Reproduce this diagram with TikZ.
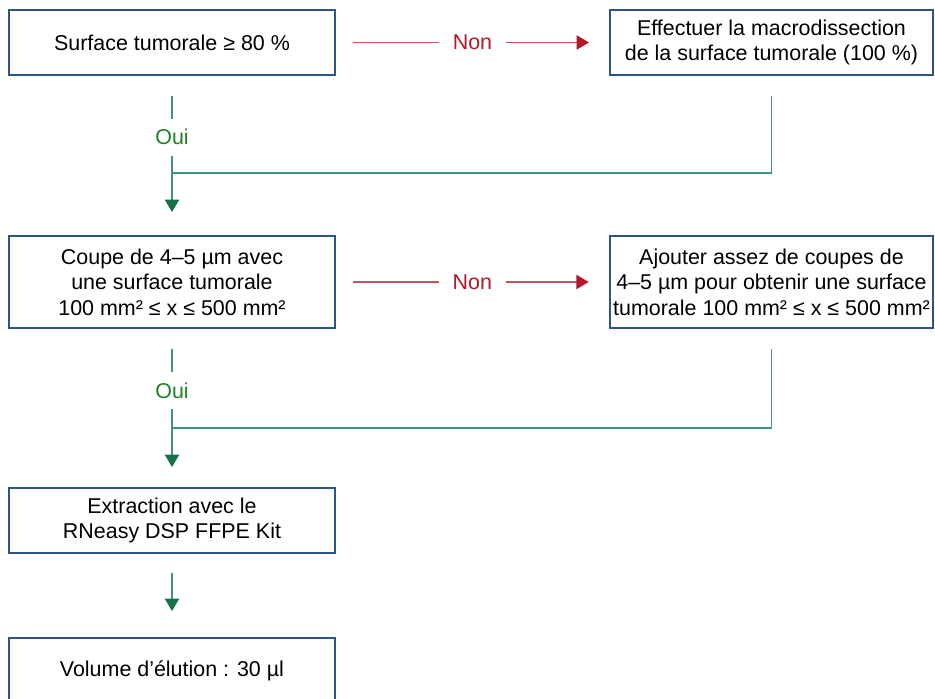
\documentclass[tikz,border=0pt]{standalone}
\usepackage{fontspec}
\setmainfont{Liberation Sans}
\usepackage{tikz}
\usetikzlibrary{arrows.meta, positioning, calc}

\definecolor{boxblue}{RGB}{45,85,135}
\definecolor{ouigreen}{RGB}{30,130,40}
\definecolor{linegreen}{RGB}{60,150,115}
\definecolor{tipgreen}{RGB}{20,115,75}
\definecolor{nonred}{RGB}{178,24,42}

\tikzset{
    stepbox/.style={draw=boxblue, line width=1.1pt, rectangle, fill=white, align=center,
        minimum width=6.52cm, minimum height=1.3cm, inner sep=2pt,
        font=\fontsize{12.2}{14.6}\selectfont},
    ouiline/.style={draw=linegreen, line width=0.9pt},
    ouiarrow/.style={ouiline, -{Triangle[width=8pt, length=7pt, color=tipgreen]}},
    nonarrow/.style={draw=nonred!75, line width=0.9pt, -{Triangle[width=8pt, length=7pt, color=nonred]}},
    tag/.style={fill=white, inner xsep=2pt, inner ysep=6pt, font=\fontsize{12.2}{14}\selectfont},
    nontag/.style={tag, inner xsep=8pt, text=nonred}
}

\begin{document}
\begin{tikzpicture}
    \useasboundingbox (0,0) rectangle (18.7,-13.98);

    % Left column
    \node[stepbox] (surface) at (3.44,-0.85) {Surface tumorale ≥ 80 \%};
    \node[stepbox, minimum height=1.84cm] (coupe) at (3.44,-5.64) {Coupe de 4–5 µm avec\\une surface tumorale\\100 mm² ≤ x ≤ 500 mm²};
    \node[stepbox] (extraction) at (3.44,-10.41) {Extraction avec le\\RNeasy DSP FFPE Kit};
    \node[stepbox] (elution) at (3.44,-13.41) {Volume d’élution : 30 µl};

    % Right column
    \node[stepbox, minimum width=6.46cm] (macro) at (15.43,-0.85) {Effectuer la macrodissection\\de la surface tumorale (100 \%)};
    \node[stepbox, minimum width=6.46cm, minimum height=1.84cm] (ajout) at (15.43,-5.64) {Ajouter assez de coupes de\\4–5 µm pour obtenir une surface\\tumorale 100 mm² ≤ x ≤ 500 mm²};

    % Non arrows
    \draw[nonarrow, shorten <=0.34cm, shorten >=0.4cm] (surface) -- node[nontag] {Non} (macro);
    \draw[nonarrow, shorten <=0.34cm, shorten >=0.4cm] (coupe) -- node[nontag] {Non} (ajout);

    % Oui arrows
    \draw[ouiarrow, shorten <=0.4cm, shorten >=0.46cm] (surface) -- node[tag, text=ouigreen, pos=0.385] {Oui} (coupe);
    \draw[ouiarrow, shorten <=0.4cm, shorten >=0.4cm] (coupe) -- node[tag, text=ouigreen, pos=0.39] {Oui} (extraction);
    \draw[ouiarrow, shorten <=0.38cm, shorten >=0.52cm] (extraction) -- (elution);

    % Join lines
    \coordinate (join1) at (3.44,-3.46);
    \coordinate (join2) at (3.44,-8.56);
    \draw[ouiline, shorten <=0.4cm] (macro) |- (join1);
    \draw[ouiline, shorten <=0.4cm] (ajout) |- (join2);
\end{tikzpicture}
\end{document}
